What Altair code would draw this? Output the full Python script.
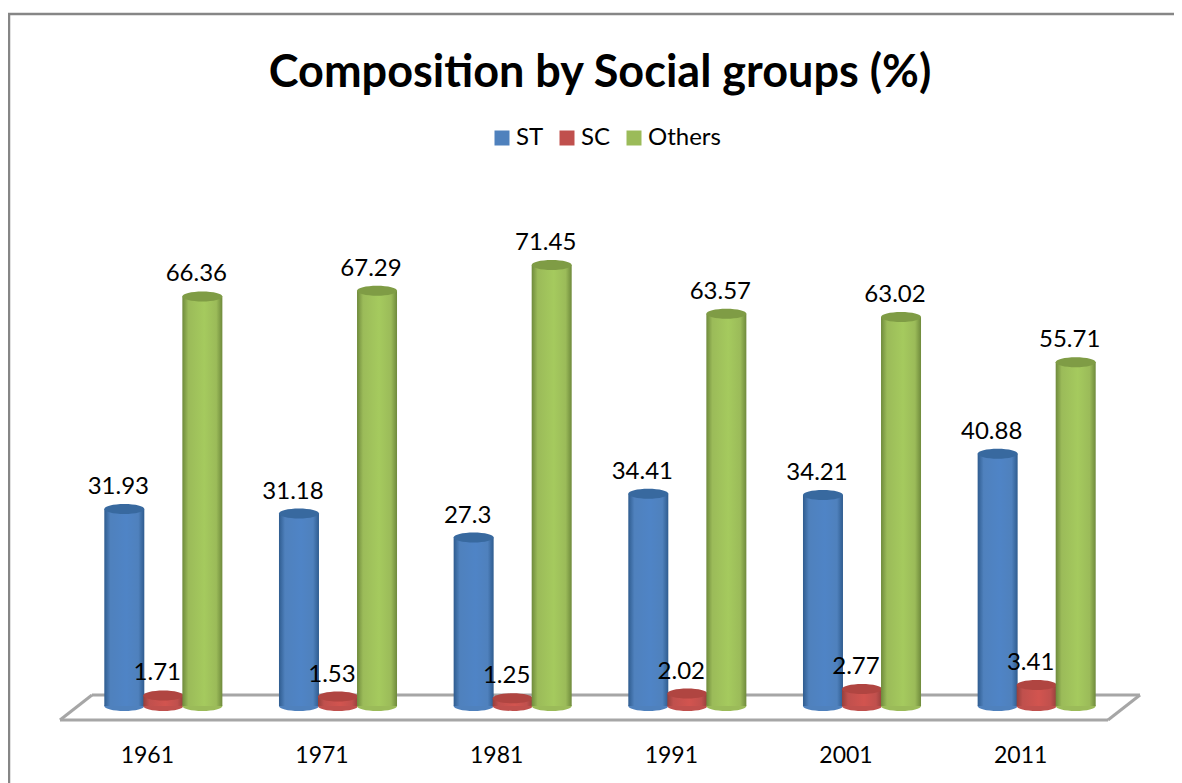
import altair as alt
import pandas as pd

years = ["1961", "1971", "1981", "1991", "2001", "2011"]
series = ["ST", "SC", "Others"]
st = [31.93, 31.18, 27.3, 34.41, 34.21, 40.88]
sc = [1.71, 1.53, 1.25, 2.02, 2.77, 3.41]
others = [66.36, 67.29, 71.45, 63.57, 63.02, 55.71]
title_text = "Composition by Social groups (%)"

colors = ["#4F81BD", "#C0504D", "#9BBB59"]
edges = ["#2F5C8F", "#96403C", "#6F8A3C"]
lights = ["#4F84C6", "#D2544F", "#A5CA5E"]
tops = ["#38699F", "#B04541", "#7F9C45"]

FONT = "Lato"
ELLIPSE = "M-1,0 A1,0.25 0 1,1 1,0 A1,0.25 0 1,1 -1,0 Z"
DOMAIN = [0, 90.1]

rows = []
for name, vals in zip(series, [st, sc, others]):
    for y, v in zip(years, vals):
        rows.append({"year": y, "series": name, "value": v})
df = pd.DataFrame(rows)

x_enc = alt.X("year:N", sort=years, scale=alt.Scale(paddingInner=0, paddingOuter=0),
              axis=alt.Axis(title=None, domain=False, ticks=False, grid=False, labelAngle=0,
                            labelFont=FONT, labelFontSize=23, labelColor="#000000",
                            labelPadding=38, labelOffset=-16))
xo = alt.XOffset("series:N", sort=series, scale=alt.Scale(paddingInner=0, paddingOuter=0.738))
y_enc = alt.Y("value:Q", scale=alt.Scale(domain=DOMAIN, nice=False), axis=None)
base = alt.Chart(df).encode(x=x_enc, xOffset=xo, y=y_enc)


def rule(x, x2, y, y2, color, width):
    return alt.Chart(alt.Data(values=[{}])).mark_rule(color=color, strokeWidth=width).encode(
        x=alt.value(x), x2=alt.value(x2), y=alt.value(y), y2=alt.value(y2))


# page position minus view origin (76, 150)
def frule(a, b, c, d):
    return rule(a - 76, c - 76, b - 150, d - 150, "#A6A6A6", 3)


layers = [
    rule(-67, -67, -136, 640, "#868686", 2.5),
    rule(-68, 1098, -136, -136, "#868686", 2.5),
    frule(60, 720, 1108, 720),
    frule(1108, 720, 1140, 695),
    frule(1140, 695, 92, 695),
    frule(92, 695, 60, 720),
]

legend = alt.Legend(title=None, orient="none", legendX=414, legendY=-24, direction="horizontal",
                    columns=3, symbolType="square", symbolSize=225, symbolStrokeWidth=0,
                    labelFont=FONT, labelFontSize=24, labelColor="#000000", labelOffset=2,
                    columnPadding=11, symbolOpacity=1)

for i, name in enumerate(series):
    sub = base.transform_filter(alt.datum.series == name)
    grad = alt.Gradient(gradient="linear", x1=0, x2=1, y1=0, y2=0, stops=[
        alt.GradientStop(offset=0, color=edges[i]),
        alt.GradientStop(offset=0.15, color=colors[i]),
        alt.GradientStop(offset=0.55, color=lights[i]),
        alt.GradientStop(offset=0.85, color=colors[i]),
        alt.GradientStop(offset=1, color=edges[i]),
    ])
    # base ellipse carries the legend colour
    layers.append(
        sub.transform_calculate(zero="0").mark_point(shape=ELLIPSE, size=1600, filled=True, opacity=1).encode(
            y=alt.Y("zero:Q", scale=alt.Scale(domain=DOMAIN, nice=False), axis=None),
            color=alt.Color("series:N", sort=series, scale=alt.Scale(domain=series, range=colors), legend=legend),
        )
    )
    layers.append(sub.mark_bar(size=40, fill=grad))
    layers.append(sub.mark_point(shape=ELLIPSE, size=1600, filled=True, opacity=1, color=tops[i]))

# labels are drawn last so that they stay on top
layers.append(
    base.mark_text(font=FONT, fontSize=24, color="#000000", baseline="middle", dx=-6, dy=-22).encode(
        text=alt.Text("value:Q")
    )
)

chart = alt.layer(*layers).properties(
    width=1048,
    height=556,
    padding={"left": 68, "top": 142, "right": 50, "bottom": 77},
    autosize=alt.AutoSizeParams(type="none"),
    background="#FFFFFF",
    title=alt.TitleParams(title_text, font=FONT, fontSize=45, fontWeight="bold", color="#000000",
                          anchor="middle", baseline="alphabetic", offset=-119),
).configure_view(stroke=None)

chart.save("out.html", embed_options={"renderer": "svg", "actions": False})
